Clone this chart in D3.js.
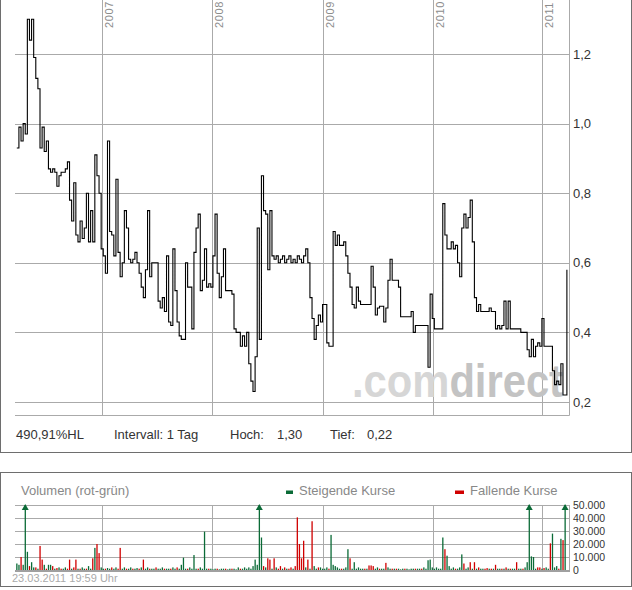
<!DOCTYPE html>
<html><head><meta charset="utf-8">
<script src="https://cdn.jsdelivr.net/npm/d3@7"></script>
<style>body{margin:0;background:#fff}svg{display:block;font-family:"Liberation Sans",Arial,sans-serif}</style>
</head><body><svg id="c" width="632" height="590"></svg>
<script>
// ---- data ----
const startDate = "2006-03-23";
const stepDays = 7;
const prices = [
0.93,0.99,0.95,1.00,0.97,1.30,1.24,1.30,1.19,1.13,
1.10,0.93,0.99,0.92,0.95,0.87,0.86,0.87,0.86,0.82,
0.85,0.86,0.86,0.87,0.89,0.78,0.72,0.83,0.68,0.66,
0.72,0.67,0.70,0.80,0.66,0.75,0.66,0.91,0.85,0.80,
0.64,0.62,0.57,0.95,0.69,0.68,0.62,0.84,0.63,0.56,
0.60,0.75,0.70,0.61,0.60,0.61,0.63,0.60,0.57,0.53,
0.50,0.58,0.75,0.56,0.60,0.60,0.60,0.49,0.47,0.50,
0.46,0.62,0.43,0.42,0.64,0.52,0.43,0.39,0.38,0.38,
0.60,0.53,0.53,0.41,0.63,0.70,0.74,0.52,0.55,0.64,
0.53,0.54,0.53,0.62,0.74,0.57,0.50,0.56,0.64,0.52,
0.52,0.52,0.51,0.41,0.40,0.40,0.36,0.39,0.36,0.40,
0.31,0.26,0.23,0.33,0.70,0.38,0.85,0.75,0.74,0.58,
0.75,0.62,0.61,0.62,0.60,0.61,0.62,0.60,0.61,0.62,
0.60,0.61,0.60,0.62,0.61,0.60,0.62,0.64,0.60,0.50,
0.44,0.38,0.42,0.45,0.43,0.48,0.48,0.37,0.36,0.36,
0.69,0.65,0.68,0.65,0.65,0.66,0.62,0.57,0.53,0.48,
0.47,0.53,0.49,0.48,0.48,0.48,0.48,0.48,0.59,0.53,
0.45,0.47,0.475,0.475,0.43,0.47,0.55,0.61,0.55,0.55,
0.55,0.53,0.445,0.445,0.445,0.445,0.445,0.46,0.40,0.42,
0.42,0.42,0.42,0.42,0.42,0.30,0.51,0.44,0.41,0.41,
0.41,0.41,0.77,0.68,0.64,0.64,0.66,0.64,0.65,0.60,
0.56,0.70,0.74,0.70,0.73,0.78,0.66,0.50,0.46,0.48,
0.46,0.46,0.46,0.46,0.47,0.46,0.46,0.41,0.42,0.41,
0.42,0.49,0.41,0.49,0.41,0.41,0.41,0.41,0.41,0.40,
0.40,0.40,0.35,0.33,0.38,0.33,0.36,0.37,0.36,0.44,
0.36,0.36,0.36,0.36,0.29,0.25,0.26,0.25,0.31,0.22,0.22
];
const lastDate = "2011-03-23";
const lastPrice = 0.58;
// weekly volume in thousand shares; positive = rising (green), negative = falling (red)
const volumes = [
5,4,-10,4,60,14,-3,6,2,-2,
1,-18.5,-8,4,-1,4,4,-3,1,-1.5,
2,-1,1,2,-1,-8,1,-2,-8,1,
-1,2,1,-1,3,1,-9,17,-20,-13,
2,1,-1,1.5,1,-2,1,2,-1,-17,
1,2,-1,1,2,-1,1,1.5,-1,2,
-8,1,2,-1,1,1,-2,1,1,2,
-1,1,1,-1,2,1,-2,1,4,9.5,
1,-1,2,1,11.5,1,-1,2,1,29.5,
1,-1,1,0.5,1,-1,0.5,1,1,-1,
0.5,1,-1,1,0.5,2,-1,1,2,1,
2,1,3,8,4,60,25,-3,2,-9,
-8,1,-9,2,-1,-3,1,-2,1,-1,
-2,1,-3,-40.5,-20,-9,-22.5,2,-8,1,
-37.5,3,1,-2,2,1,1,2,-1,27,
4,3,2,1,-1,1,2,16,-9,1,
6,1,2,1,1,-1,1,-3.5,-3.5,-3,
1,2,-1,1,1,-5.5,2,1,-1,1,
-1,1,0.5,1,-1,1,0.5,1,1,-1,
1,1,-1,2,1,7.5,8,2,1,2,
1,1,25,-16,11,3,1,2,-1,1,
2,12,-5,1,2,-6,1,-6,1,-2,
1,1,-1,-1.5,1,-1,1,-4,1,1,
-1,1,-2,1,-1,1,1,-6,1,1,
-1,2,6,60,10.5,10,1,-2,-2,1,
-1.5,2,1,-20.5,28,2,3,-1,24,-23,
60
];
const priceTicks = [0.2,0.4,0.6,0.8,1.0,1.2];
const volTicks = [0,10,20,30,40,50];
const yearTicks = [2007,2008,2009,2010,2011];
const infoTexts = ["490,91%HL","Intervall: 1 Tag","Hoch:","1,30","Tief:","0,22"];
const volTitle = "Volumen (rot-grün)";
const legendLabels = ["Steigende Kurse","Fallende Kurse"];
const stampText = "23.03.2011 19:59 Uhr";

// ---- build ----
const parse = d3.timeParse("%Y-%m-%d");
const t0 = parse(startDate);
const series = prices.map((v,i)=>({date:d3.timeDay.offset(t0,i*stepDays), value:v}));
series.push({date:parse(lastDate), value:lastPrice});
const vols = volumes.map((v,i)=>({date:d3.timeDay.offset(t0,i*stepDays), value:Math.abs(v), up:v>0}));

const svg = d3.select("#c");
const GRID = "#aaaaaa", BORDER = "#6e6e6e", TXT = "#333333";
const X0 = 15, X1 = 569;
const x = d3.scaleTime().domain([parse("2006-03-17"), parse("2011-03-30")]).range([X0, X1]);
const y = d3.scaleLinear().domain([0.2,1.2]).range([402,54]);
const yv = d3.scaleLinear().domain([0,50]).range([570,505]);
const px = v => Math.round(v)+0.5;
const de = d3.formatLocale({decimal:",",thousands:".",grouping:[3],currency:["","€"]});
const f1 = de.format(".1f"), fInt = de.format(",d");

// main panel frame
svg.append("line").attr("x1",0.5).attr("x2",0.5).attr("y1",0).attr("y2",452.5).attr("stroke",BORDER);
svg.append("line").attr("x1",631.5).attr("x2",631.5).attr("y1",0).attr("y2",452.5).attr("stroke",BORDER);
svg.append("line").attr("x1",0).attr("x2",632).attr("y1",452.5).attr("y2",452.5).attr("stroke",BORDER);

const gm = svg.append("g");
// horizontal grid
gm.selectAll("line.h").data(priceTicks).join("line")
  .attr("x1",X0).attr("x2",X1).attr("y1",d=>px(y(d))).attr("y2",d=>px(y(d))).attr("stroke",GRID);
gm.append("line").attr("x1",X0).attr("x2",X1+0.5).attr("y1",415.5).attr("y2",415.5).attr("stroke",GRID);
gm.append("line").attr("x1",X1+0.5).attr("x2",X1+0.5).attr("y1",0).attr("y2",415.5).attr("stroke",GRID);
// year grid
gm.selectAll("line.v").data(yearTicks).join("line")
  .attr("x1",d=>px(x(new Date(d,0,1)))).attr("x2",d=>px(x(new Date(d,0,1))))
  .attr("y1",0).attr("y2",415).attr("stroke",GRID);
gm.selectAll("text.yr").data(yearTicks).join("text")
  .attr("transform",d=>`translate(${Math.round(x(new Date(d,0,1)))+11},28) rotate(-90)`)
  .attr("font-size",11).attr("fill","#8c8c8c").attr("letter-spacing",0.6).text(d=>d);

// watermark
const wm = gm.append("text").attr("x",352).attr("y",397).attr("font-size",46).attr("font-weight","bold")
  .attr("textLength",211).attr("lengthAdjust","spacingAndGlyphs");
wm.append("tspan").attr("fill","#d6d6d6").text(".com");
wm.append("tspan").attr("fill","#c3c3c3").text("direct");

// price line
gm.append("path").datum(series)
  .attr("d", d3.line().x(d=>x(d.date)).y(d=>y(d.value)).curve(d3.curveStepAfter))
  .attr("fill","none").attr("stroke","#000").attr("stroke-width",1.1);

// right axis labels
gm.selectAll("text.pt").data(priceTicks).join("text")
  .attr("x",573).attr("y",d=>y(d)+4.5).attr("font-size",13).attr("fill",TXT).text(d=>f1(d));

// info line
const infoX = [16,114,230,277,330,367];
gm.selectAll("text.info").data(infoTexts).join("text")
  .attr("x",(d,i)=>infoX[i]).attr("y",439).attr("font-size",13).attr("fill",TXT).text(d=>d);

// ---- volume panel ----
svg.append("rect").attr("x",0.5).attr("y",472.5).attr("width",631).attr("height",114).attr("fill","none").attr("stroke",BORDER);
const gv = svg.append("g");
gv.append("text").attr("x",21).attr("y",495).attr("font-size",13).attr("fill","#888").text(volTitle);
gv.append("rect").attr("x",286).attr("y",490.5).attr("width",7).attr("height",3.5).attr("fill","#0b6b37");
gv.append("text").attr("x",299).attr("y",495).attr("font-size",13).attr("fill","#888").text(legendLabels[0]);
gv.append("rect").attr("x",455).attr("y",490.5).attr("width",9).attr("height",3.5).attr("fill","#d00000");
gv.append("text").attr("x",470).attr("y",495).attr("font-size",13).attr("fill","#888").text(legendLabels[1]);

gv.selectAll("line.vh").data(volTicks.filter(d=>d>0)).join("line")
  .attr("x1",X0).attr("x2",X1).attr("y1",d=>px(yv(d))).attr("y2",d=>px(yv(d))).attr("stroke",GRID);
gv.selectAll("line.vv").data(yearTicks).join("line")
  .attr("x1",d=>px(x(new Date(d,0,1)))).attr("x2",d=>px(x(new Date(d,0,1))))
  .attr("y1",yv(50)).attr("y2",yv(0)).attr("stroke",GRID);
gv.append("line").attr("x1",X1+0.5).attr("x2",X1+0.5).attr("y1",yv(50)).attr("y2",yv(0)).attr("stroke",GRID);

// bars
gv.selectAll("rect.bar").data(vols).join("rect")
  .attr("x",d=>x(d.date)-0.6).attr("width",1.3)
  .attr("y",d=>yv(Math.min(d.value,50))).attr("height",d=>yv(0)-yv(Math.min(d.value,50)))
  .attr("fill",d=>d.up?"#0b6b37":"#d00000");
// overflow arrows
gv.selectAll("path.arr").data(vols.filter(d=>d.value>50)).join("path")
  .attr("d",d=>{const cx=x(d.date), t=yv(50); return `M${cx-3.5},${t+5}L${cx},${t-1}L${cx+3.5},${t+5}Z`;})
  .attr("fill",d=>d.up?"#0b6b37":"#d00000");

// baseline
gv.append("line").attr("x1",X0).attr("x2",X1+1).attr("y1",yv(0)+1).attr("y2",yv(0)+1).attr("stroke","#a0a0a0").attr("stroke-width",2);

gv.selectAll("text.vt").data(volTicks).join("text")
  .attr("x",573).attr("y",d=>yv(d)+4).attr("font-size",10.5).attr("fill",TXT)
  .text(d=>fInt(d*1000));
gv.append("text").attr("x",12).attr("y",582).attr("font-size",11).attr("fill","#aaa").text(stampText);
</script></body></html>
